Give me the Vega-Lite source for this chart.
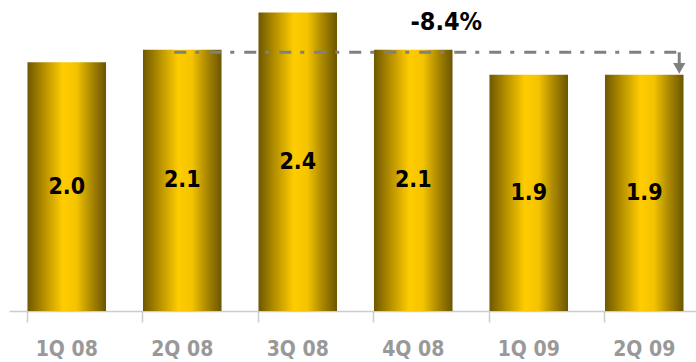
{
  "$schema": "https://vega.github.io/schema/vega-lite/v6.json",
  "autosize": "none",
  "width": 693,
  "height": 311,
  "padding": {"left": 9, "top": 0, "right": 0, "bottom": 51},
  "background": "white",
  "config": {"view": {"stroke": null}, "font": "DejaVu Sans Condensed, Liberation Sans Narrow, DejaVu Sans, sans-serif"},
  "data": {"values": [
    {"quarter": "1Q 08", "value": 2.0},
    {"quarter": "2Q 08", "value": 2.1},
    {"quarter": "3Q 08", "value": 2.4},
    {"quarter": "4Q 08", "value": 2.1},
    {"quarter": "1Q 09", "value": 1.9},
    {"quarter": "2Q 09", "value": 1.9}
  ]},
  "encoding": {
    "x": {"field": "quarter", "type": "nominal", "sort": null,
      "scale": {"paddingInner": 0.32, "paddingOuter": 0.16},
      "axis": {"title": null, "labelAngle": 0, "domainColor": "#cccccc", "domainWidth": 1.5, "tickColor": "#cccccc", "tickSize": 11, "tickWidth": 1.5, "bandPosition": 0, "labelFontSize": 21, "labelFontWeight": "bold", "labelColor": "#999999", "labelPadding": 16}},
    "y": {"type": "quantitative", "scale": {"domain": [0, 2.5]}, "axis": null}
  },
  "layer": [
    {
      "mark": {"type": "bar", "color": {"gradient": "linear", "x1": 0, "x2": 1, "y1": 0, "y2": 0,
        "stops": [
          {"offset": 0, "color": "#6e5800"},
          {"offset": 0.22, "color": "#b89200"},
          {"offset": 0.45, "color": "#ffcc00"},
          {"offset": 0.62, "color": "#f5c400"},
          {"offset": 0.82, "color": "#a88600"},
          {"offset": 1, "color": "#6b5600"}
        ]}},
      "encoding": {"y": {"field": "value"}}
    },
    {
      "transform": [{"calculate": "datum.value / 2", "as": "mid"}],
      "mark": {"type": "text", "fontSize": 23, "fontWeight": "bold", "color": "black", "baseline": "middle"},
      "encoding": {"y": {"field": "mid"}, "text": {"field": "value", "format": ".1f"}}
    },
    {
      "data": {"values": [{"label": "-8.4%"}]},
      "layer": [
        {
          "mark": {"type": "rule", "color": "#808080", "strokeWidth": 3, "strokeDash": [12, 9, 4, 10], "xOffset": -8, "x2Offset": 35},
          "encoding": {"x": {"datum": "2Q 08"}, "x2": {"datum": "2Q 09"}, "y": {"datum": 2.08}}
        },
        {
          "mark": {"type": "rule", "color": "#808080", "strokeWidth": 3, "xOffset": 35},
          "encoding": {"x": {"datum": "2Q 09"}, "y": {"datum": 2.08}, "y2": {"datum": 1.98}}
        },
        {
          "mark": {"type": "point", "shape": "triangle-down", "filled": true, "color": "#808080", "size": 150, "opacity": 1, "xOffset": 35},
          "encoding": {"x": {"datum": "2Q 09"}, "y": {"datum": 1.95}}
        },
        {
          "mark": {"type": "text", "fontSize": 25, "fontWeight": "bold", "color": "black", "xOffset": 33, "baseline": "middle"},
          "encoding": {"x": {"datum": "4Q 08"}, "y": {"datum": 2.32}, "text": {"field": "label"}}
        }
      ]
    }
  ]
}
